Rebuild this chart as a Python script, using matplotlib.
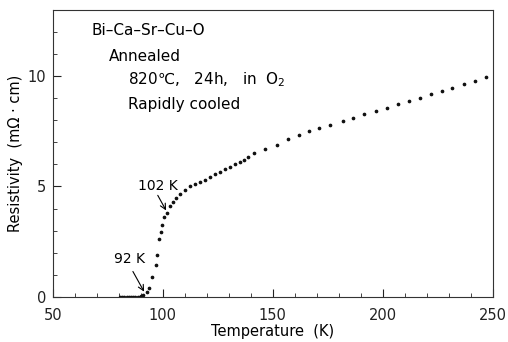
import numpy as np
import matplotlib
matplotlib.use('Agg')
import matplotlib.pyplot as plt
from matplotlib.ticker import MultipleLocator

# zero-resistance region
T_zero = [80.5, 81.5, 82.5, 83.5, 84.5, 85.5, 86.5, 87.5, 88.5, 89.5, 90.3, 91.0]
R_zero = [0, 0, 0, 0, 0, 0, 0, 0, 0, 0, 0.05, 0.1]

# transition and normal state
T_main = [92.6, 93.6, 95.3, 96.8, 97.4, 98.3, 99.0, 99.7, 100.6, 101.7,
          103.2, 104.7, 106.2, 107.7, 110.0, 112.3, 114.5, 116.8, 119.0,
          121.4, 123.6, 125.9, 128.2, 130.5, 132.7, 135.0, 137.0, 138.6,
          141.6, 146.4, 151.7, 156.7, 161.8, 166.4, 170.9, 175.9, 181.7,
          186.4, 191.5, 196.7, 201.7, 206.7, 211.9, 216.8, 221.7, 226.7,
          231.5, 236.8, 241.8, 246.8]
R_main = [0.2, 0.4, 0.9, 1.45, 1.9, 2.6, 2.95, 3.27, 3.6, 3.8,
          4.1, 4.3, 4.5, 4.65, 4.83, 5.0, 5.1, 5.2, 5.3,
          5.42, 5.55, 5.65, 5.77, 5.88, 6.0, 6.1, 6.2, 6.35,
          6.5, 6.68, 6.9, 7.14, 7.32, 7.5, 7.64, 7.77, 7.95,
          8.12, 8.3, 8.42, 8.57, 8.73, 8.88, 9.0, 9.2, 9.33,
          9.48, 9.64, 9.79, 9.94]

plt.rcParams['font.family'] = ['DejaVu Sans', 'Noto Sans CJK JP']

fig = plt.figure(figsize=(5.08, 3.42), dpi=100)
ax = fig.add_axes([0.104, 0.132, 0.866, 0.839])

ax.plot(T_zero, R_zero, '.', color='#111111', ms=3.3)
ax.plot(T_main, R_main, '.', color='#111111', ms=3.3)

ax.set_xlim(50, 250)
ax.set_ylim(0, 13)
ax.xaxis.set_major_locator(MultipleLocator(50))
ax.xaxis.set_minor_locator(MultipleLocator(10))
ax.yaxis.set_major_locator(MultipleLocator(5))
ax.yaxis.set_minor_locator(MultipleLocator(1))
ax.tick_params(which='both', direction='in', labelsize=10.5, colors='#222222')
ax.tick_params(which='major', length=6, width=0.8)
ax.tick_params(which='minor', length=3, width=0.6)
ax.tick_params(axis='x', pad=8)
ax.tick_params(axis='y', pad=5)
for s in ax.spines.values():
    s.set_linewidth(0.8)
    s.set_color('#333333')

ax.set_xlabel('Temperature  (K)', fontsize=10.5, labelpad=1)
ax.set_ylabel('Resistivity  (m\u03a9 \u00b7 cm)', fontsize=10.5, labelpad=3)

# labels for the transition points
ax.text(106.8, 5.0, '102 K', fontsize=10, ha='right', va='center')
ax.annotate('', xy=(101.8, 3.86), xytext=(97.7, 4.6),
            arrowprops=dict(arrowstyle='->', lw=0.8, color='k', shrinkA=0, shrinkB=1))
ax.text(85.0, 1.7, '92 K', fontsize=10, ha='center', va='center')
ax.annotate('', xy=(91.8, 0.18), xytext=(86.4, 1.15),
            arrowprops=dict(arrowstyle='->', lw=0.8, color='k', shrinkA=0, shrinkB=1))

ax.text(67.5, 12.05, 'Bi\u2013Ca\u2013Sr\u2013Cu\u2013O', fontsize=11, va='center')
ax.text(75.5, 10.9, 'Annealed', fontsize=11, va='center')
ax.text(84, 9.85, '820\u2103,   24h,   in  O$_2$', fontsize=11, va='center')
ax.text(84, 8.7, 'Rapidly cooled', fontsize=11, va='center')

fig.savefig('out.png', dpi=100)
